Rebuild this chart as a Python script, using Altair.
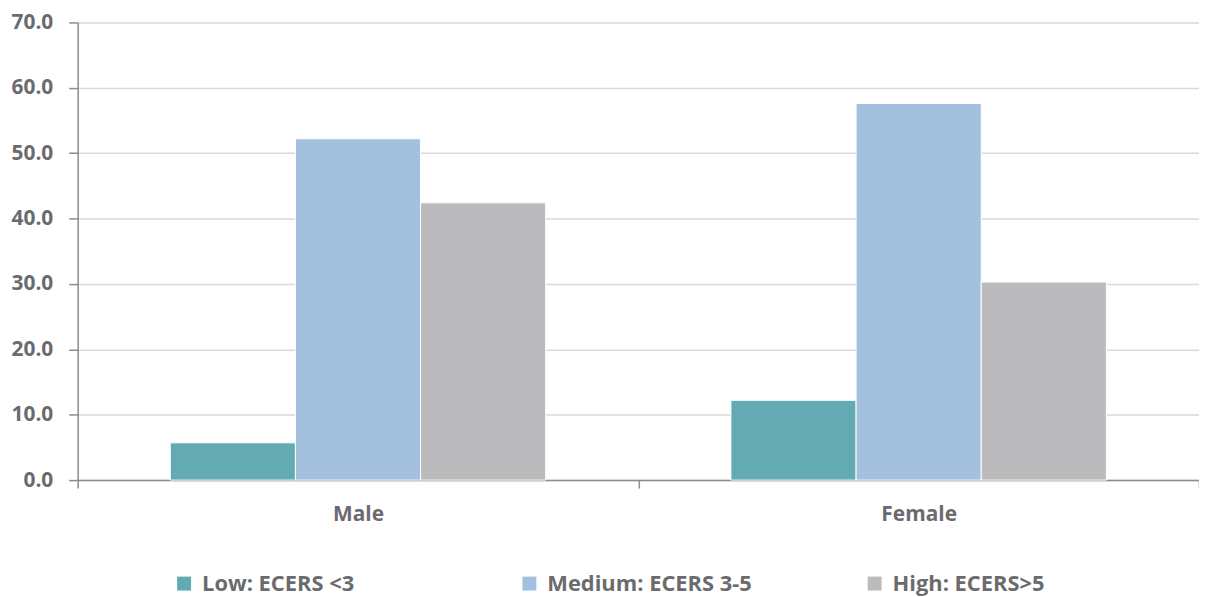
import altair as alt
import pandas as pd

groups = ["Male", "Female"]
levels = ["Low: ECERS <3", "Medium: ECERS 3-5", "High: ECERS>5"]
colors = ["#63AAB2", "#A3C0DF", "#BBBBBD"]
male_vals = [5.7, 52.2, 42.4]
female_vals = [12.2, 57.6, 30.3]

rows = []
for g, vals in zip(groups, [male_vals, female_vals]):
    for lvl, v in zip(levels, vals):
        rows.append({"group": g, "level": lvl, "value": v})
df = pd.DataFrame(rows)

FONT = "Open Sans"
TXT = "#6b6b6d"

chart = (
    alt.Chart(df)
    .mark_bar(stroke="white", strokeWidth=1)
    .encode(
        x=alt.X(
            "group:N",
            sort=groups,
            title=None,
            scale=alt.Scale(paddingInner=0, paddingOuter=0),
            axis=alt.Axis(
                labelAngle=0,
                labelFont=FONT,
                labelFontSize=21,
                labelFontWeight="bold",
                labelColor=TXT,
                labelPadding=16,
                tickBand="extent",
                tickSize=8,
                tickColor="#8c8c8c",
                domainColor="#8c8c8c",
                domainWidth=1.5,
                tickWidth=1.5,
                grid=False,
            ),
        ),
        xOffset=alt.XOffset(
            "level:N",
            sort=levels,
            scale=alt.Scale(paddingInner=0, paddingOuter=0.74),
        ),
        y=alt.Y(
            "value:Q",
            title=None,
            scale=alt.Scale(domain=[0, 70], nice=False),
            axis=alt.Axis(
                values=[0, 10, 20, 30, 40, 50, 60, 70],
                format=".1f",
                labelFont=FONT,
                labelFontSize=21,
                labelFontWeight="bold",
                labelColor=TXT,
                labelPadding=16,
                tickSize=9,
                tickColor="#8c8c8c",
                domainColor="#8c8c8c",
                domainWidth=1.5,
                tickWidth=1.5,
                gridColor="#d9d9d9",
                gridWidth=1.5,
            ),
        ),
        color=alt.Color(
            "level:N",
            sort=levels,
            scale=alt.Scale(domain=levels, range=colors),
            legend=alt.Legend(
                title=None,
                orient="none",
                legendX=96,
                legendY=553,
                direction="horizontal",
                columns=3,
                gridAlign="all",
                columnPadding=112,
                symbolType="square",
                symbolSize=196,
                symbolStrokeWidth=0,
                labelFont=FONT,
                labelFontSize=22,
                labelFontWeight="bold",
                labelColor=TXT,
                labelLimit=400,
                labelOffset=7,
            ),
        ),
    )
    .properties(
        width=1127,
        height=460,
        padding={"left": 70, "top": 13, "right": 0, "bottom": 116},
        autosize=alt.AutoSizeParams(type="none"),
    )
    .configure_view(stroke=None)
)

chart.save("out.html", embed_options={"renderer": "svg", "actions": False})
